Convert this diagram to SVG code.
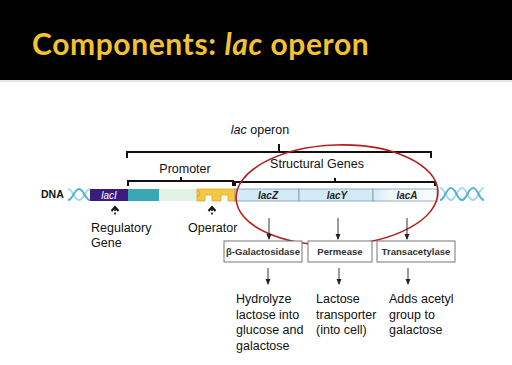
<svg xmlns="http://www.w3.org/2000/svg" width="512" height="365" viewBox="0 0 512 365">
<defs>
<style>
.t{font-family:"Liberation Sans",Arial,sans-serif;fill:#111}
.lab{font-size:12.5px}
.box{fill:#fff;stroke:#777;stroke-width:1}
.bt{font-family:"Liberation Sans",Arial,sans-serif;font-weight:bold;font-size:9.6px;fill:#333;text-anchor:middle}
.gene{font-family:"Liberation Sans",Arial,sans-serif;font-weight:bold;font-style:italic;font-size:10px;fill:#222;text-anchor:middle}
.br{fill:none;stroke:#111;stroke-width:2}
.ar{stroke:#222;stroke-width:0.9;marker-end:url(#ah)}
.hx{fill:none;stroke-width:2}
</style>
<marker id="ah" viewBox="0 0 6 6" refX="5" refY="3" markerWidth="6" markerHeight="6" orient="auto" markerUnits="userSpaceOnUse">
<path d="M0,0.5 L6,3 L0,5.5 z" fill="#222"/>
</marker>
<linearGradient id="fadeA" x1="0" x2="1" y1="0" y2="0">
<stop offset="0" stop-color="#d3eaf7"/>
<stop offset="0.3" stop-color="#f4f9fc"/>
<stop offset="1" stop-color="#f8fbfd"/>
</linearGradient>
</defs>
<rect width="512" height="365" fill="#fff"/>
<g id="title">
<rect x="0" y="0" width="512" height="80" fill="#000"/>
<line x1="0" y1="81" x2="512" y2="81" stroke="#ccc" stroke-width="1"/>
<text x="32" y="55" font-family="Lato,'Open Sans',sans-serif" font-weight="bold" font-size="30" letter-spacing="0.6" fill="#F2C230">Components: <tspan font-style="italic">lac</tspan> operon</text>
</g>
<g id="dna">
<text x="41" y="198" class="t" font-weight="bold" font-size="10.5">DNA</text>
<g id="helix-left">
<path class="hx" stroke="#a9d9ec" d="M68,189 C73,189 74,200 79,200 C84,200 85,189 90,189"/>
<path class="hx" stroke="#4fb3d6" d="M68,200 C73,200 74,189 79,189 C84,189 85,200 90,200"/>
</g>
<g id="helix-right">
<path class="hx" stroke="#a9d9ec" d="M440,188 C445,188 446,200 451,200 C456,200 457,188 462,188 C467,188 468,200 473,200 C478,200 479,188 484,188"/>
<path class="hx" stroke="#4fb3d6" d="M440,200 C445,200 446,188 451,188 C456,188 457,200 462,200 C467,200 468,188 473,188 C478,188 479,200 484,200"/>
</g>
</g>
<g id="lacI">
<rect x="90" y="189" width="38" height="12" fill="#3a1c7e"/>
<text x="109" y="198.8" class="gene" style="fill:#fff;font-weight:normal">lacI</text>
</g>
<g id="promoter-region">
<rect x="128" y="189" width="31" height="12" fill="#3aa7b2"/>
<rect x="159" y="189" width="38" height="12" fill="#e2f2e5"/>
</g>
<g id="operator-region">
<path d="M197,189 H235 V201 H228 V195 H221 V201 H212 V195 H205 V201 H197 Z" fill="#f5c843" stroke="#d8a528" stroke-width="0.8"/>
<path d="M197,190.5 a3,3 0 0 1 0,6" fill="none" stroke="#c69a2a" stroke-width="0.8"/>
</g>
<g id="structural">
<rect x="235" y="189" width="64" height="12" fill="#d3eaf7" stroke="#7d9aa8" stroke-width="0.8"/>
<rect x="299" y="189" width="74" height="12" fill="#d3eaf7" stroke="#7d9aa8" stroke-width="0.8"/>
<rect x="373" y="189" width="64" height="12" fill="url(#fadeA)" stroke="#7d9aa8" stroke-width="0.8"/>
<text x="268" y="198.8" class="gene">lacZ</text>
<text x="337" y="198.8" class="gene">lacY</text>
<text x="407" y="198.8" class="gene">lacA</text>
</g>
<g id="brackets">
<path class="br" d="M127,158 V152 H431 V158 M279,152 V144"/>
<path class="br" d="M128,186 V181 H233 V186 M181,181 V177"/>
<path class="br" d="M235,186 V182 H435 V186 M335,182 V178"/>
</g>
<g id="labels">
<text x="260" y="134" class="t lab" text-anchor="middle"><tspan font-style="italic">lac</tspan> operon</text>
<text x="185" y="173" class="t lab" text-anchor="middle">Promoter</text>
<text x="317" y="168" class="t lab" text-anchor="middle">Structural Genes</text>
<text x="91" y="232" class="t lab">Regulatory</text>
<text x="91" y="247" class="t lab">Gene</text>
<text x="188" y="232" class="t lab">Operator</text>
</g>
<g id="pointers">
<path d="M111.5,211 L115,207 L118.5,211" fill="none" stroke="#111" stroke-width="2"/>
<line x1="115" y1="209" x2="115" y2="216" stroke="#111" stroke-width="1.6" stroke-dasharray="2,1.5"/>
<path d="M208.5,211 L212,207 L215.5,211" fill="none" stroke="#111" stroke-width="2"/>
<line x1="212" y1="209" x2="212" y2="216" stroke="#111" stroke-width="1.6" stroke-dasharray="2,1.5"/>
</g>
<ellipse id="highlight" cx="337" cy="195" rx="101" ry="50" fill="none" stroke="#b3201f" stroke-width="1.6" transform="rotate(-2 337 195)"/>
<g id="connectors">
<line class="ar" x1="269" y1="218" x2="269" y2="239"/>
<line class="ar" x1="338" y1="218" x2="338" y2="239"/>
<line class="ar" x1="407" y1="218" x2="407" y2="239"/>
<line class="ar" x1="268" y1="268" x2="268" y2="284"/>
<line class="ar" x1="339" y1="268" x2="339" y2="284"/>
<line class="ar" x1="408" y1="268" x2="408" y2="284"/>
</g>
<g id="bgal">
<rect class="box" x="224" y="241" width="78" height="21"/>
<text class="bt" x="263" y="255">β-Galactosidase</text>
</g>
<g id="permease">
<rect class="box" x="308" y="241" width="64" height="21"/>
<text class="bt" x="340" y="255">Permease</text>
</g>
<g id="transacetylase">
<rect class="box" x="377" y="241" width="78" height="21"/>
<text class="bt" x="416" y="255">Transacetylase</text>
</g>
<g id="descriptions">
<text class="t lab" x="236" y="303"><tspan x="236">Hydrolyze</tspan><tspan x="236" dy="15.7">lactose into</tspan><tspan x="236" dy="15.7">glucose and</tspan><tspan x="236" dy="15.7">galactose</tspan></text>
<text class="t lab" x="316" y="303"><tspan x="316">Lactose</tspan><tspan x="316" dy="15.7">transporter</tspan><tspan x="316" dy="15.7">(into cell)</tspan></text>
<text class="t lab" x="389" y="303"><tspan x="389">Adds acetyl</tspan><tspan x="389" dy="15.7">group to</tspan><tspan x="389" dy="15.7">galactose</tspan></text>
</g>
</svg>
